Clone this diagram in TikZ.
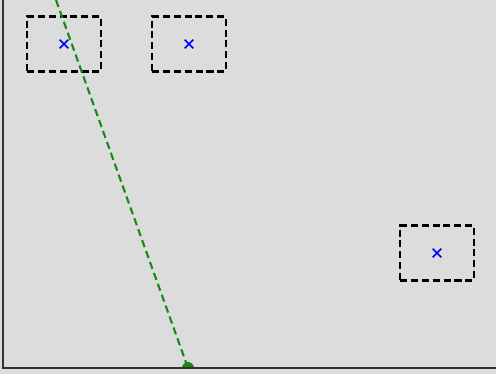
\documentclass[tikz,border=0pt]{standalone}
\usepackage{xcolor}
\usepackage{tikz}
\usetikzlibrary{shapes.misc, positioning}
\definecolor{fondo}{RGB}{220,220,220}
\definecolor{marco}{RGB}{50,50,50}
\definecolor{verde}{RGB}{20,140,20}

\begin{document}
\begin{tikzpicture}[
  x=0.02cm, y=-0.02cm,
  region/.style={draw, dash pattern=on 4pt off 2.2pt, line width=1.3pt,
                 minimum width=1.48cm, minimum height=1.1cm, inner sep=0pt},
  centro/.style={cross out, draw=blue, line width=0.9pt,
                 minimum size=0.14cm, inner sep=0pt},
  trayecto/.style={verde, dash pattern=on 4.2pt off 2.4pt, line width=1.2pt}
]
  \fill[fondo] (0,0) rectangle (496,374);
  \useasboundingbox (0,0) rectangle (496,374);

  \node[region] (r1) at (64,44) {};
  \node[region] (r2) at (189,44) {};
  \node[region] (r3) at (437,253) {};
  \node[centro] (c1) at (r1.center) {};
  \node[centro] (c2) at (r2.center) {};
  \node[centro] (c3) at (r3.center) {};

  \coordinate (inicio) at (56,0);
  \begin{scope}
    \clip (3,0) rectangle (496,368);
    \node[circle, fill=verde, minimum size=0.24cm, inner sep=0pt] (fin) at (188,368) {};
  \end{scope}
  \draw[trayecto] (inicio) -- (fin.center);

  \draw[marco, line width=1.1pt] (3,0) -- (3,368) -- (496,368);
\end{tikzpicture}
\end{document}
